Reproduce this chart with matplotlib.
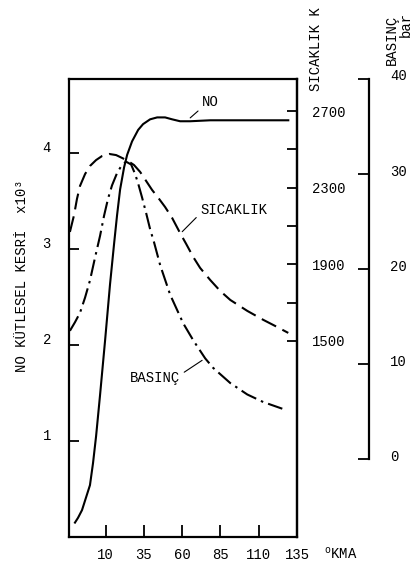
import matplotlib
matplotlib.use("Agg")
import matplotlib.pyplot as plt
import matplotlib.transforms as mtransforms

plt.rcParams['font.family'] = ['Liberation Mono', 'DejaVu Sans']
plt.rcParams['mathtext.fontset'] = 'custom'
plt.rcParams['mathtext.rm'] = 'Liberation Mono'
plt.rcParams['font.size'] = 10

# NO kutlesel kesri (x10^3) vs krank acisi
no_x = [-10.1, -8.1, -5.5, -2.9, -0.3, 1.7, 3.7, 6.3, 9.6, 12.8, 15.5, 17.4, 19.4,
        22.0, 24.0, 27.2, 31.2, 34.4, 39.0, 43.6, 48.8, 53.4, 58.6, 65.2, 78.3, 129.3]
no_y = [0.15, 0.20, 0.28, 0.41, 0.54, 0.77, 1.05, 1.48, 2.05, 2.63, 3.06, 3.35, 3.62,
        3.85, 3.98, 4.12, 4.24, 4.30, 4.35, 4.37, 4.37, 4.35, 4.33, 4.33, 4.34, 4.34]

# sicaklik (K)
t_x = [-13.4, -10.7, -8.8, -6.8, -3.5, -0.3, 3.7, 7.6, 12.2, 16.8, 20.7, 24.6, 28.5,
       32.5, 36.4, 40.3, 44.9, 48.8, 53.4, 58.6, 62.6, 67.2, 71.7, 78.3, 84.8, 91.4,
       102.5, 113.0, 120.8, 129.3]
t_y = [2069, 2157, 2241, 2309, 2371, 2413, 2444, 2465, 2476, 2470, 2455, 2439, 2418,
       2382, 2335, 2288, 2241, 2199, 2142, 2063, 2006, 1938, 1881, 1818, 1761, 1714,
       1657, 1610, 1578, 1542]

# basinc (bar)
p_x = [-13.4, -10.1, -6.8, -3.5, -0.3, 3.0, 6.3, 8.9, 11.5, 14.1, 17.4, 20.0, 23.3,
       26.6, 29.2, 31.2, 33.8, 36.4, 39.0, 41.6, 45.6, 52.1, 60.6, 67.2, 75.0, 80.2,
       91.4, 102.5, 113.0, 125.4]
p_y = [13.5, 14.4, 15.4, 17.0, 18.8, 21.2, 23.5, 25.6, 27.4, 28.8, 30.1, 30.8, 31.3,
       31.0, 30.0, 29.0, 27.5, 25.9, 24.2, 22.8, 20.4, 17.3, 14.3, 12.5, 10.6, 9.6,
       8.0, 6.8, 6.0, 5.3]

x_ticks = [10, 35, 60, 85, 110, 135]
no_ticks = [1, 2, 3, 4]
t_ticks = [1500, 1700, 1900, 2100, 2300, 2500, 2700]
t_labels = ['1500', '', '1900', '', '2300', '', '2700']
p_ticks = [0, 10, 20, 30, 40]

fig = plt.figure(figsize=(4.16, 5.68), dpi=100)
ax = fig.add_axes([69 / 416, 31 / 568, 228 / 416, 458 / 568])

lw = 1.5
ax.plot(no_x, no_y, color='black', lw=lw)
ax.set_xlim(-14, 135)
ax.set_ylim(0, 4.77)
ax.set_xticks(x_ticks)
ax.set_yticks(no_ticks)
ax.tick_params(axis='both', direction='in', width=1.3, labelsize=10)
ax.tick_params(axis='y', length=7, pad=13, right=False)
ax.tick_params(axis='x', length=8.5, pad=8, top=False)
for s in ax.spines.values():
    s.set_linewidth(1.6)

# sayilar tiklerin biraz ustunde
off = mtransforms.ScaledTranslation(0, 6 / 100, fig.dpi_scale_trans)
for lab in ax.get_yticklabels():
    lab.set_transform(lab.get_transform() + off)

ax2 = ax.twinx()
ax2.plot(t_x, t_y, color='black', lw=lw, linestyle=(0, (7.7, 3.4)))
ax2.set_ylim(477, 2867)
ax2.set_yticks(t_ticks)
ax2.set_yticklabels(t_labels)
ax2.tick_params(axis='y', direction='in', length=7, width=1.3, pad=11, labelsize=10)
for k in ['top', 'left', 'bottom']:
    ax2.spines[k].set_visible(False)
ax2.spines['right'].set_linewidth(1.6)

ax3 = ax.twinx()
ax3.plot(p_x, p_y, color='black', lw=lw, linestyle=(0, (8, 2.5, 1.2, 2.5)))
ax3.set_ylim(-8.2, 40)
ax3.set_yticks(p_ticks)
ax3.spines['right'].set_position(('outward', 52))
ax3.spines['right'].set_bounds(0, 40)
ax3.spines['right'].set_linewidth(1.6)
for k in ['top', 'left', 'bottom']:
    ax3.spines[k].set_visible(False)
ax3.tick_params(axis='y', direction='in', length=8, width=1.3, pad=15, labelsize=10)
off3 = mtransforms.ScaledTranslation(0, 4 / 100, fig.dpi_scale_trans)
for lab in ax3.get_yticklabels():
    lab.set_transform(lab.get_transform() + off3)

# egri isimleri
arr = dict(arrowstyle='-', color='black', lw=0.8, shrinkA=1, shrinkB=0)
ax.annotate('NO', xy=(65.2, 4.365), xytext=(78.3, 4.53), ha='center', va='center',
            fontsize=10, arrowprops=dict(arr, relpos=(0, 0.1)))
ax.annotate('SICAKLIK', xy=(60.0, 3.18), xytext=(93.5, 3.41), ha='center', va='center',
            fontsize=10, arrowprops=dict(arr, relpos=(0, 0.2)))
ax.annotate('BASINÇ', xy=(73.0, 1.84), xytext=(42.3, 1.66), ha='center', va='center',
            fontsize=10, arrowprops=dict(arr, relpos=(1, 0.7)))

# eksen basliklari
fig.text(22 / 416, 1 - 276 / 568, 'NO KÜTLESEL KESRİ  x10³', rotation=90,
         ha='center', va='center', fontsize=10)
fig.text(316 / 416, 1 - 49 / 568, 'SICAKLIK K', rotation=90,
         ha='center', va='center', fontsize=10)
fig.text(392 / 416, 1 - 40 / 568, 'BASINÇ', rotation=90,
         ha='center', va='center', fontsize=10)
fig.text(406 / 416, 1 - 24 / 568, 'bar', rotation=90,
         ha='center', va='center', fontsize=10)
fig.text(341 / 416, 1 - 554 / 568, r'$^{\mathrm{o}}$KMA',
         ha='center', va='center', fontsize=10)

fig.savefig('out.png', dpi=100)
